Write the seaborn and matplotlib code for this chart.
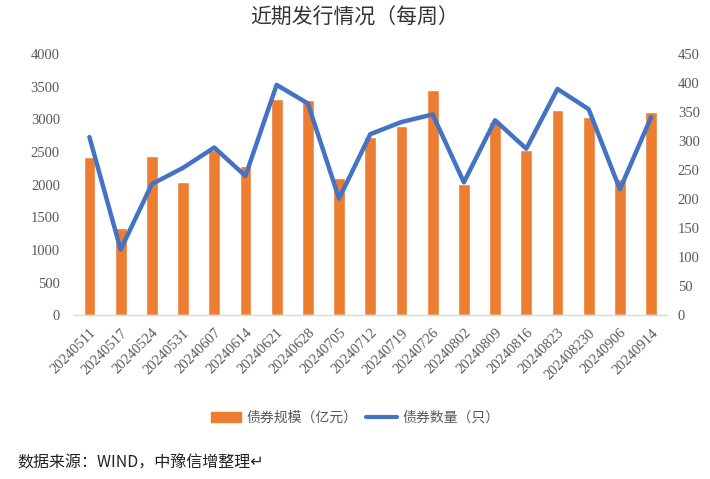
import numpy as np
import pandas as pd
import matplotlib.pyplot as plt
import seaborn as sns
from matplotlib.patches import Patch
from matplotlib.lines import Line2D


# Data
dates = ["20240511", "20240517", "20240524", "20240531", "20240607", "20240614",
         "20240621", "20240628", "20240705", "20240712", "20240719", "20240726",
         "20240802", "20240809", "20240816", "20240823", "202408230", "20240906",
         "20240914"]
scale = [2420, 1335, 2440, 2040, 2530, 2285, 3310, 3295, 2100, 2730, 2900,
         3450, 2010, 2960, 2530, 3145, 3035, 2085, 3110]
count = [307, 113, 226, 254, 289, 240, 397, 365, 201, 312, 333, 346, 229,
         336, 287, 390, 355, 217, 341]

ORANGE = "#ED7D31"
BLUE = "#4472C4"
GREY = "#595959"

df = pd.DataFrame({"date": dates, "scale": scale, "count": count})
df["pos"] = np.arange(len(df))

sns.set_style("white")
plt.rcParams["font.family"] = ["Liberation Serif", "Noto Sans CJK SC", "DejaVu Sans"]
cjk = ["Noto Sans CJK SC", "DejaVu Sans"]

fig = plt.figure(figsize=(7.1, 4.79), dpi=100)
ax = fig.add_axes([0.104, 0.342, 0.835, 0.545])

sns.barplot(data=df, x="date", y="scale", color=ORANGE, width=0.38,
            saturation=1, ax=ax)
ax.set_ylim(0, 4000)
ax.set_yticks(range(0, 4001, 500))
ax.set_xlabel("")
ax.set_ylabel("")

ax2 = ax.twinx()
sns.lineplot(data=df, x="pos", y="count", color=BLUE, linewidth=3.2,
             ax=ax2)
ax2.set_ylim(0, 450)
ax2.set_yticks(range(0, 451, 50))
ax2.set_xlabel("")
ax2.set_ylabel("")
ax.set_xlim(-0.5, len(df) - 0.5)

for a in (ax, ax2):
    for s in a.spines.values():
        s.set_visible(False)
    a.tick_params(length=0, labelsize=10.5, labelcolor=GREY)
ax.tick_params(axis="y", pad=10)
ax2.tick_params(axis="y", pad=8)
ax.spines["bottom"].set_visible(True)
ax.spines["bottom"].set_color("#D9D9D9")
ax.spines["bottom"].set_linewidth(1)

ax.set_xticks(df["pos"])
ax.set_xticklabels(dates, rotation=45, ha="right", rotation_mode="anchor")
ax.tick_params(axis="x", pad=8)

fig.text(0.5, 0.963, "近期发行情况（每周）", ha="center", va="center",
         fontsize=15, color="#333333", family=cjk)

handles = [Patch(color=ORANGE), Line2D([], [], color=BLUE, linewidth=3)]
labels = ["债券规模（亿元）", "债券数量（只）"]
fig.legend(handles, labels, loc="center", bbox_to_anchor=(0.5, 0.128),
           ncol=2, frameon=False, prop={"family": cjk, "size": 10},
           labelcolor=GREY, handlelength=2.2, columnspacing=0.6,
           handletextpad=0.4)

fig.text(0.025, 0.033, "数据来源：WIND，中豫信增整理↵", ha="left",
         va="center", fontsize=11.5, color="#222222", family=cjk)

fig.savefig("out.png", dpi=100)
